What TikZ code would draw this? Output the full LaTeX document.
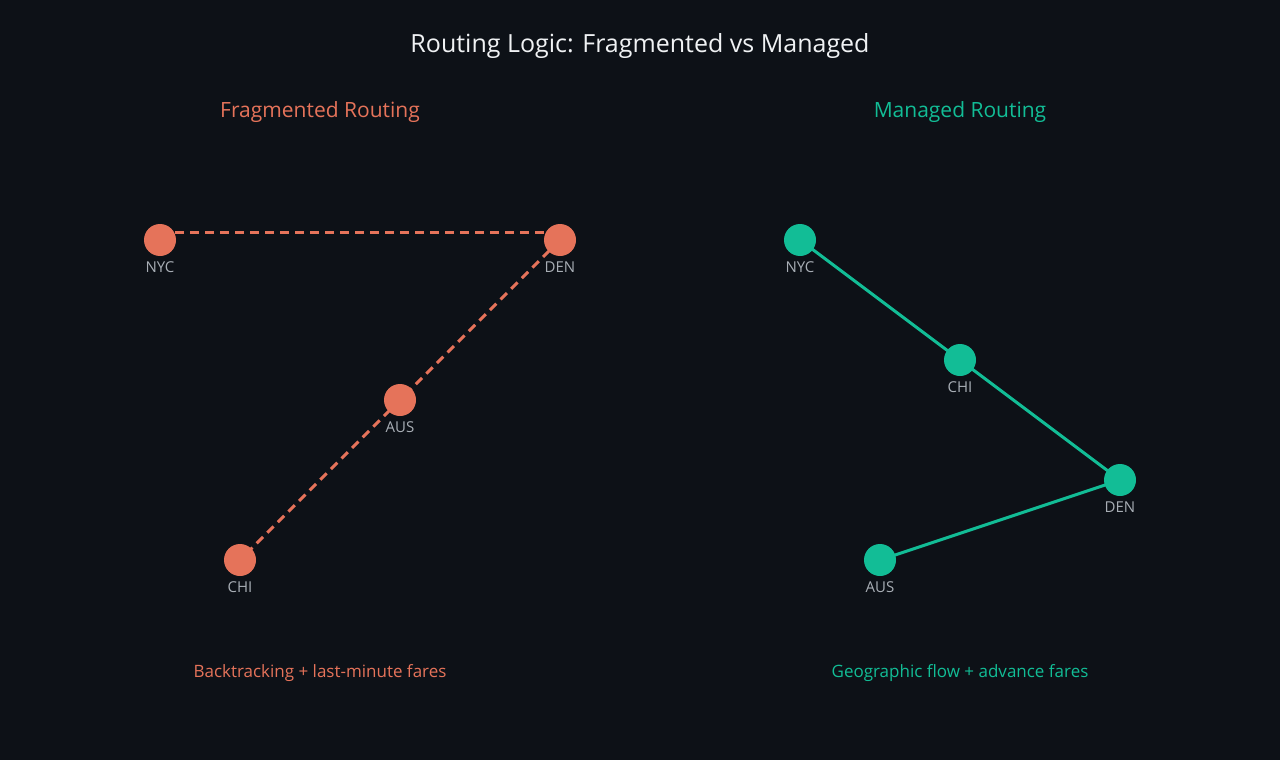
\documentclass[tikz,border=0pt]{standalone}
\usepackage{fontspec}
\setmainfont{Open Sans}
\usetikzlibrary{positioning}
\definecolor{bg}{HTML}{0D1117}
\definecolor{frag}{HTML}{E5735A}
\definecolor{mang}{HTML}{12BD96}
\definecolor{lbl}{HTML}{A8AEB5}
\definecolor{ttl}{HTML}{F0F2F4}
\tikzset{
  city/.style={circle, fill=#1, minimum size=32pt, inner sep=0pt},
  cityname/.style={text=lbl, font=\fontsize{15}{18}\selectfont},
  fragline/.style={frag, line width=3pt, dash pattern=on 9pt off 6pt},
  mangline/.style={mang, line width=3pt},
}
\begin{document}
\begin{tikzpicture}[x=1pt, y=-1pt]
\fill[bg] (0,0) rectangle (1280,760);
\useasboundingbox (0,0) rectangle (1280,760);
\node[text=ttl, font=\fontsize{25}{30}\selectfont] (title) at (640,46) {Routing Logic: Fragmented vs Managed};
\node[text=frag, font=\fontsize{21}{25}\selectfont] (fragtitle) at (320,112) {Fragmented Routing};
\node[text=mang, font=\fontsize{21}{25}\selectfont] (mangtitle) at (960,112) {Managed Routing};
% fragmented
\coordinate (fnyc) at (160,240);
\coordinate (fden) at (560,240);
\coordinate (faus) at (400,400);
\coordinate (fchi) at (240,560);
\draw[fragline] ([yshift=8pt]fnyc) -- ([yshift=8pt]fden);
\draw[fragline] (fden) -- (fchi);
\foreach \c/\t in {fnyc/NYC, fden/DEN, faus/AUS, fchi/CHI}{
  \node[city=frag] (\c n) at (\c) {};
  \node[cityname, below=2pt of \c n] {\t};
}
% managed
\coordinate (mnyc) at (800,240);
\coordinate (mchi) at (960,360);
\coordinate (mden) at (1120,480);
\coordinate (maus) at (880,560);
\draw[mangline] (mnyc) -- (mchi) -- (mden) -- (maus);
\foreach \c/\t in {mnyc/NYC, mchi/CHI, mden/DEN, maus/AUS}{
  \node[city=mang] (\c n) at (\c) {};
  \node[cityname, below=2pt of \c n] {\t};
}
\node[text=frag, font=\fontsize{17}{20}\selectfont] (fragnote) at (320,673) {Backtracking + last-minute fares};
\node[text=mang, font=\fontsize{17}{20}\selectfont] (mangnote) at (960,673) {Geographic flow + advance fares};
\end{tikzpicture}
\end{document}
